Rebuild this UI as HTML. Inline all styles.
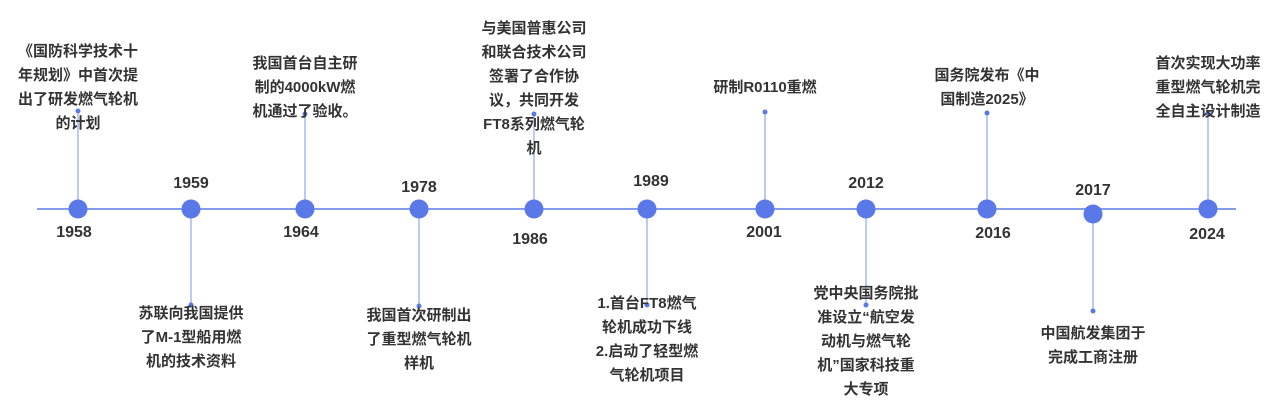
<!DOCTYPE html>
<html><head><meta charset="utf-8"><style>
body{margin:0;width:1280px;height:416px;background:#fff;position:relative;overflow:hidden;font-family:"Liberation Sans","Noto Sans CJK SC",sans-serif;}
.t{position:absolute;width:200px;text-align:center;font-size:15px;line-height:24px;font-weight:bold;color:#333;}
.y{position:absolute;width:80px;text-align:center;font-size:16px;line-height:20px;font-weight:bold;color:#333;}
</style></head><body>
<svg width="1280" height="416" style="position:absolute;left:0;top:0">
<line x1="37" y1="209" x2="1236" y2="209" stroke="#5a7be8" stroke-width="1.5"/>
<g stroke="#8fa6f0" stroke-width="1.2">
<line x1="78" y1="111" x2="78" y2="209"/>
<line x1="191" y1="209" x2="191" y2="305"/>
<line x1="305" y1="114" x2="305" y2="209"/>
<line x1="419" y1="209" x2="419" y2="306"/>
<line x1="534" y1="114" x2="534" y2="209"/>
<line x1="647" y1="209" x2="647" y2="305"/>
<line x1="765" y1="112" x2="765" y2="209"/>
<line x1="866" y1="209" x2="866" y2="305"/>
<line x1="987" y1="113" x2="987" y2="209"/>
<line x1="1093" y1="214" x2="1093" y2="311"/>
<line x1="1208" y1="113" x2="1208" y2="209"/>
</g>
<g fill="#5a78e8">
<circle cx="78" cy="209" r="9.5"/><circle cx="191" cy="209" r="9.5"/><circle cx="305" cy="209" r="9.5"/><circle cx="419" cy="209" r="9.5"/><circle cx="534" cy="209" r="9.5"/><circle cx="647" cy="209" r="9.5"/><circle cx="765" cy="209" r="9.5"/><circle cx="866" cy="209" r="9.5"/><circle cx="987" cy="209" r="9.5"/><circle cx="1093" cy="214" r="9.5"/><circle cx="1208" cy="209" r="9.5"/>
<circle cx="78" cy="111" r="2.5"/><circle cx="191" cy="305" r="2.5"/><circle cx="305" cy="114" r="2.5"/><circle cx="419" cy="306" r="2.5"/><circle cx="534" cy="114" r="2.5"/><circle cx="647" cy="305" r="2.5"/><circle cx="765" cy="112" r="2.5"/><circle cx="866" cy="305" r="2.5"/><circle cx="987" cy="113" r="2.5"/><circle cx="1093" cy="311" r="2.5"/><circle cx="1208" cy="113" r="2.5"/>
</g>
</svg>
<div class="t" style="left:-22px;top:40px">《国防科学技术十<br>年规划》中首次提<br>出了研发燃气轮机<br>的计划</div>
<div class="t" style="left:91px;top:302px">苏联向我国提供<br>了M-1型船用燃<br>机的技术资料</div>
<div class="t" style="left:205px;top:52px">我国首台自主研<br>制的4000kW燃<br>机通过了验收。</div>
<div class="t" style="left:319px;top:304px">我国首次研制出<br>了重型燃气轮机<br>样机</div>
<div class="t" style="left:434px;top:17px">与美国普惠公司<br>和联合技术公司<br>签署了合作协<br>议，共同开发<br>FT8系列燃气轮<br>机</div>
<div class="t" style="left:547px;top:292px">1.首台FT8燃气<br>轮机成功下线<br>2.启动了轻型燃<br>气轮机项目</div>
<div class="t" style="left:665px;top:76px">研制R0110重燃</div>
<div class="t" style="left:766px;top:282px">党中央国务院批<br>准设立“航空发<br>动机与燃气轮<br>机”国家科技重<br>大专项</div>
<div class="t" style="left:887px;top:64px">国务院发布《中<br>国制造2025》</div>
<div class="t" style="left:993px;top:322px">中国航发集团于<br>完成工商注册</div>
<div class="t" style="left:1108px;top:52px">首次实现大功率<br>重型燃气轮机完<br>全自主设计制造</div>
<div class="y" style="left:34px;top:223px">1958</div>
<div class="y" style="left:151px;top:174px">1959</div>
<div class="y" style="left:261px;top:223px">1964</div>
<div class="y" style="left:379px;top:178px">1978</div>
<div class="y" style="left:490px;top:230px">1986</div>
<div class="y" style="left:611px;top:172px">1989</div>
<div class="y" style="left:724px;top:223px">2001</div>
<div class="y" style="left:826px;top:174px">2012</div>
<div class="y" style="left:953px;top:224px">2016</div>
<div class="y" style="left:1053px;top:181px">2017</div>
<div class="y" style="left:1167px;top:225px">2024</div>
</body></html>
